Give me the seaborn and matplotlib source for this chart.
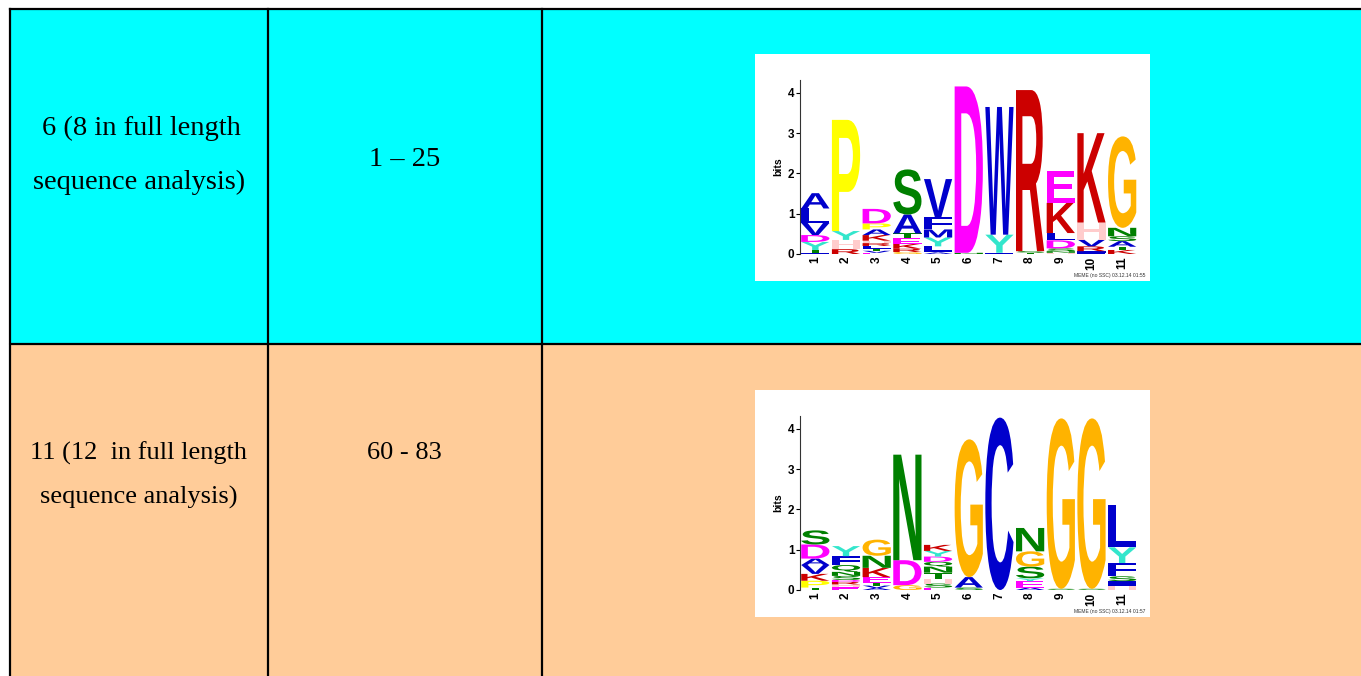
import matplotlib
matplotlib.use("Agg")
import matplotlib.pyplot as plt
import matplotlib.transforms as mtrans
from matplotlib.patches import Rectangle, PathPatch
from matplotlib.textpath import TextPath
from matplotlib.font_manager import FontProperties
import seaborn as sns

# ---- table text ----
motif_line1 = ["6 (8 in full length", "11 (12  in full length"]
motif_line2 = ["sequence analysis)", "sequence analysis)"]
regions = ["1 \u2013 25", "60 - 83"]
row_colors = ["#00FFFF", "#FFCC99"]
stamps = ["MEME (no SSC) 03.12.14 01:55", "MEME (no SSC) 03.12.14 01:57"]

# ---- logo data: letters bottom -> top, heights in bits ----
positions = list(range(1, 12))

motif6_letters = ["ITYDVLA", "RHYP", "EVTLRHKAPD", "GRKETAS", "AILYMFV",
                  "ND", "FYW", "TSR", "HNSDLKE", "FIRVHK", "KTASNG"]
motif6_bits = [
    [0.03, 0.07, 0.20, 0.17, 0.30, 0.36, 0.38],
    [0.12, 0.23, 0.22, 2.76],
    [0.03, 0.05, 0.05, 0.07, 0.07, 0.06, 0.14, 0.14, 0.15, 0.36],
    [0.05, 0.08, 0.12, 0.14, 0.12, 0.47, 1.12],
    [0.04, 0.05, 0.10, 0.22, 0.20, 0.30, 0.95],
    [0.03, 4.13],
    [0.03, 0.45, 3.17],
    [0.03, 0.04, 4.00],
    [0.03, 0.04, 0.07, 0.20, 0.18, 0.75, 0.78],
    [0.03, 0.04, 0.12, 0.17, 0.42, 2.22],
    [0.10, 0.08, 0.14, 0.12, 0.21, 2.27],
]

motif11_letters = ["TPKVADS", "EHRDSNQFY", "AVTEKNG", "GDN", "ESHTNQDYK",
                   "SAG", "C", "AEYSGN", "SG", "SG", "HISFYL"]
motif11_bits = [
    [0.06, 0.17, 0.17, 0.22, 0.16, 0.35, 0.35],
    [0.07, 0.07, 0.06, 0.05, 0.10, 0.10, 0.17, 0.22, 0.25],
    [0.05, 0.06, 0.07, 0.14, 0.23, 0.30, 0.40],
    [0.12, 0.62, 2.62],
    [0.06, 0.10, 0.12, 0.15, 0.15, 0.12, 0.13, 0.14, 0.15],
    [0.06, 0.26, 3.42],
    [4.28],
    [0.06, 0.16, 0.07, 0.29, 0.38, 0.58],
    [0.03, 4.23],
    [0.03, 4.23],
    [0.10, 0.12, 0.12, 0.33, 0.39, 1.04],
]

# MEME protein colours
aa_colors = {}
for a in "ACFILVWM":
    aa_colors[a] = "#0000CC"
for a in "KR":
    aa_colors[a] = "#CC0000"
for a in "NQST":
    aa_colors[a] = "#008000"
for a in "DE":
    aa_colors[a] = "#FF00FF"
aa_colors["G"] = "#FFB300"
aa_colors["H"] = "#FFCCCC"
aa_colors["P"] = "#FFFF00"
aa_colors["Y"] = "#33E6CC"

sns.set_style("white")
plt.rcParams["font.family"] = ["Liberation Serif", "DejaVu Serif"]
plt.rcParams["text.color"] = "black"

W, H = 1361, 676
fig = plt.figure(figsize=(W / 100, H / 100), dpi=100)
bg = fig.add_axes([0, 0, 1, 1])
bg.set_xlim(0, W)
bg.set_ylim(H, 0)
bg.axis("off")

# table cells
bg.add_patch(Rectangle((10, 9), W - 10, 335, fc=row_colors[0], ec="none"))
bg.add_patch(Rectangle((10, 344), W - 10, H - 344, fc=row_colors[1], ec="none"))
lw = 1.6
bg.plot([10, W], [9, 9], color="black", lw=lw, solid_capstyle="projecting")
bg.plot([10, W], [344, 344], color="black", lw=lw)
for xv in [10, 268, 542]:
    bg.plot([xv, xv], [9, H], color="black", lw=lw, solid_capstyle="projecting")

# cell texts
bg.text(141, 128, motif_line1[0], ha="center", va="center", fontsize=20.5, color="black")
bg.text(139, 182, motif_line2[0], ha="center", va="center", fontsize=20.5, color="black")
bg.text(405, 160, regions[0], ha="center", va="center", fontsize=20.5, color="black")
bg.text(139, 453, motif_line1[1], ha="center", va="center", fontsize=19, color="black")
bg.text(139, 497, motif_line2[1], ha="center", va="center", fontsize=19, color="black")
bg.text(404, 453, regions[1], ha="center", va="center", fontsize=19, color="black")

# white boxes holding the logos
for top in [54, 390]:
    bg.add_patch(Rectangle((755, top), 395, 227, fc="white", ec="none"))

letter_fp = FontProperties(family="Liberation Sans", weight="bold")
lab_fp = dict(family="Liberation Sans", weight="bold")


def draw_letter(ax, ch, x, y0, h, color, w=0.92):
    tp = TextPath((0, 0), ch, size=1, prop=letter_fp)
    bb = tp.get_extents()
    tr = (mtrans.Affine2D().translate(-bb.x0, -bb.y0)
          .scale(w / bb.width, h / bb.height).translate(x - w / 2, y0))
    ax.add_patch(PathPatch(tr.transform_path(tp), fc=color, ec="none", lw=0))


def draw_logo(ax, letters, bits):
    for pos, col, hs in zip(positions, letters, bits):
        y0 = 0.0
        for ch, h in zip(col, hs):
            draw_letter(ax, ch, pos, y0, h, aa_colors[ch])
            y0 += h
    ax.set_xlim(0.5, 11.5)
    ax.set_ylim(0, 4.32)
    ax.set_facecolor("none")
    ax.set_yticks([0, 1, 2, 3, 4])
    ax.set_xticks(positions)
    ax.set_xticklabels([str(p) for p in positions], rotation=90, **lab_fp, fontsize=8.5)
    ax.set_yticklabels(["0", "1", "2", "3", "4"], **lab_fp, fontsize=8.5)
    ax.tick_params(axis="y", direction="out", length=3, width=0.8, pad=1, left=True,
                   colors="black")
    ax.tick_params(axis="x", length=0, pad=2, colors="black")
    ax.set_ylabel("bits", **lab_fp, fontsize=7.5, labelpad=3, color="black")
    sns.despine(ax=ax, top=True, right=True, bottom=True)
    ax.spines["left"].set_linewidth(0.8)
    ax.spines["left"].set_color("#333333")


for k, (letters, bits) in enumerate([(motif6_letters, motif6_bits),
                                     (motif11_letters, motif11_bits)]):
    zero_y = 254 if k == 0 else 590
    ax = fig.add_axes([800 / W, (H - zero_y) / H, 337.5 / W, 174 / H])
    draw_logo(ax, letters, bits)
    fig.text(1145 / W, (H - zero_y - 22) / H, stamps[k], ha="right", va="center",
             fontsize=3.6, family="Liberation Sans", color="#333333")

fig.savefig("out.png", dpi=100)
